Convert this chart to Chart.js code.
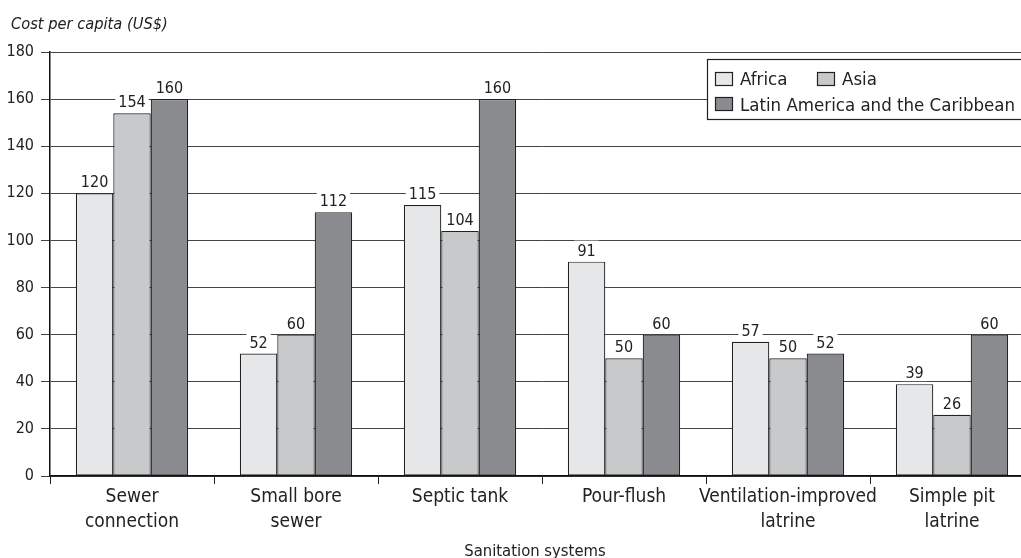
<!DOCTYPE html>
<html>
<head>
<meta charset="utf-8">
<script src="https://cdn.jsdelivr.net/npm/chart.js@4.4.0/dist/chart.umd.min.js"></script>
<style>
html,body{margin:0;padding:0;background:#fff;overflow:hidden;width:1021px;height:558px;}
#wrap{position:absolute;left:0;top:0;width:1040px;height:558px;}
</style>
</head>
<body>
<div id="wrap"><canvas id="c"></canvas></div>
<script>
const categories = [
  ["Sewer","connection"],
  ["Small bore","sewer"],
  ["Septic tank"],
  ["Pour-flush"],
  ["Ventilation-improved","latrine"],
  ["Simple pit","latrine"]
];
const seriesNames = ["Africa","Asia","Latin America and the Caribbean"];
const africa = [120, 52, 115, 91, 57, 39];
const asia   = [154, 60, 104, 50, 50, 26];
const latam  = [160, 112, 160, 60, 52, 60];
const yTicks = [0,20,40,60,80,100,120,140,160,180];
const yTitle = "Cost per capita (US$)";
const xTitle = "Sanitation systems";

const FONT = "'Liberation Sans Narrow','DejaVu Sans Condensed','Liberation Sans',sans-serif";
const colors = ["#e6e7e9","#c8c9cb","#8a8b8e"];
const textColor = "#222";

const labelPlugin = {
  id:'vals',
  afterDatasetsDraw(chart){
    const ctx = chart.ctx;
    ctx.save();
    ctx.font = "16px " + FONT;
    ctx.textAlign = "center";
    ctx.textBaseline = "alphabetic";
    chart.data.datasets.forEach((ds,i)=>{
      const meta = chart.getDatasetMeta(i);
      meta.data.forEach((el,j)=>{
        const t = String(ds.data[j]);
        const w = ctx.measureText(t).width;
        const base = el.y - 6;
        ctx.fillStyle = "#fff";
        ctx.fillRect(el.x - w/2 - 3, base - 15, w + 6, 18);
        ctx.fillStyle = textColor;
        ctx.fillText(t, el.x, base);
      });
    });
    ctx.restore();
  }
};

const decoPlugin = {
  id:'deco',
  afterDraw(chart){
    const ctx = chart.ctx;
    ctx.save();
    // y title
    ctx.font = "italic 16.3px " + FONT;
    ctx.fillStyle = textColor;
    ctx.textAlign = "left";
    ctx.textBaseline = "alphabetic";
    ctx.fillText(yTitle, 11, 29);
    // x title
    ctx.font = "16.5px " + FONT;
    ctx.textAlign = "center";
    ctx.fillText(xTitle, 535, 556);
    // legend
    const bx = 707.5, by = 59.5, bw = 320, bh = 60;
    ctx.fillStyle = "#fff";
    ctx.fillRect(bx, by, bw, bh);
    ctx.strokeStyle = "#222";
    ctx.lineWidth = 1.2;
    ctx.strokeRect(bx, by, bw, bh);
    const items = [
      {x:715.5, y:72.5, tx:740, ty:85},
      {x:817.5, y:72.5, tx:842, ty:85},
      {x:715.5, y:97.5, tx:740, ty:111}
    ];
    ctx.font = "18.5px " + FONT;
    ctx.textAlign = "left";
    seriesNames.forEach((n,i)=>{
      const it = items[i];
      ctx.fillStyle = colors[i];
      ctx.fillRect(it.x, it.y, 17, 13);
      ctx.strokeStyle = "#222";
      ctx.lineWidth = 1.2;
      ctx.strokeRect(it.x, it.y, 17, 13);
      ctx.fillStyle = textColor;
      ctx.fillText(n, it.tx, it.ty);
    });
    ctx.restore();
  }
};

new Chart(document.getElementById('c'), {
  type:'bar',
  data:{
    labels: categories,
    datasets: seriesNames.map((n,i)=>({
      label:n,
      data:[africa,asia,latam][i],
      backgroundColor:colors[i],
      borderColor:"#222",
      borderWidth:1.2,
      borderSkipped:false,
      barPercentage:1,
      categoryPercentage:0.685
    }))
  },
  options:{
    responsive:true,
    maintainAspectRatio:false,
    animation:false,
    devicePixelRatio:1,
    layout:{padding:{top:52,right:6,left:0,bottom:0}},
    plugins:{legend:{display:false},tooltip:{enabled:false},title:{display:false}},
    scales:{
      x:{
        offset:true,
        grid:{display:true,drawOnChartArea:false,drawTicks:true,tickLength:8,color:"#222",offset:true},
        border:{display:true,color:"#111",width:1.5},
        ticks:{font:{family:FONT,size:19,lineHeight:1.316},color:textColor,padding:1,maxRotation:0,autoSkip:false},
        afterFit(s){s.height = 82;}
      },
      y:{
        min:0,max:180,
        afterBuildTicks(s){s.ticks = yTicks.map(v=>({value:v}));},
        grid:{color:"#444",lineWidth:1,drawTicks:true,tickLength:9},
        border:{display:true,color:"#111",width:1.5},
        ticks:{font:{family:FONT,size:16},color:textColor,padding:7},
        afterFit(s){s.width = 50;}
      }
    }
  },
  plugins:[labelPlugin, decoPlugin]
});
</script>
</body>
</html>
